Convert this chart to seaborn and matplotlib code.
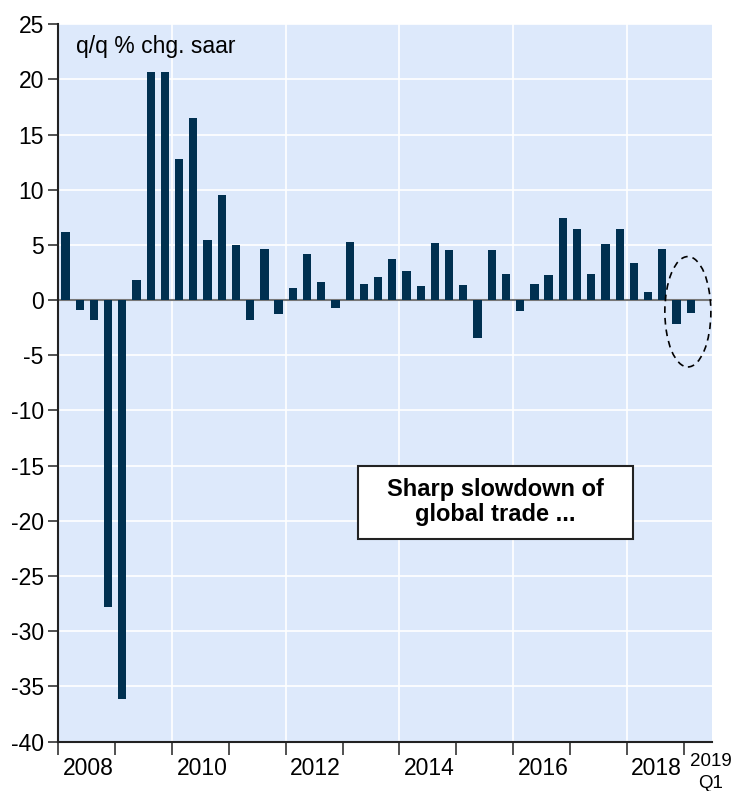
import numpy as np
import pandas as pd
import matplotlib
matplotlib.use("Agg")
import matplotlib.pyplot as plt
from matplotlib.patches import Ellipse, Rectangle
import seaborn as sns

# world trade volume, q/q % chg. saar, 2008Q1 - 2019Q1
quarters = [f"{y}Q{q}" for y in range(2008, 2020) for q in range(1, 5)][:45]
values = [6.2, -0.9, -1.8, -27.8, -36.1, 1.8, 20.7, 20.7, 12.8, 16.5, 5.4, 9.5,
          5.0, -1.8, 4.6, -1.3, 1.1, 4.2, 1.6, -0.75, 5.3, 1.45, 2.05, 3.7,
          2.6, 1.27, 5.2, 4.5, 1.36, -3.4, 4.5, 2.4, -0.95, 1.45, 2.26, 7.4,
          6.43, 2.4, 5.04, 6.43, 3.4, 0.7, 4.6, -2.2, -1.15]
years = list(range(2008, 2020))
year_labels = ["2008", "2010", "2012", "2014", "2016", "2018"]

df = pd.DataFrame({"quarter": quarters, "value": values})

sns.set_style("white")
plt.rcParams['font.family'] = ['Liberation Sans', 'DejaVu Sans']
plt.rcParams['text.color'] = 'black'
plt.rcParams['xtick.color'] = 'black'
plt.rcParams['ytick.color'] = 'black'

fig = plt.figure(figsize=(7.32, 7.91), dpi=100)
ax = fig.add_axes([0.0797, 0.0625, 0.893, 0.907])
ax.set_facecolor("#dde9fb")

sns.barplot(data=df, x="quarter", y="value", order=quarters, color="#003050",
            saturation=1, width=0.58, linewidth=0, ax=ax, zorder=3)

ax.set_xlim(-0.5, 45.5)
ax.set_ylim(-40, 25)
ax.set_yticks(np.arange(-40, 26, 5))
ax.set_yticklabels([str(v) for v in range(-40, 26, 5)], fontsize=16.5)
ax.yaxis.grid(True, color="white", linewidth=1.2, zorder=0)
ax.set_axisbelow(True)

# year ticks at boundaries, labels centered inside even years
ax.set_xticks([4 * (y - 2008) - 0.5 for y in years])
ax.set_xticklabels([])
for y in years:
    if y % 2 == 0 and y > 2008:
        ax.axvline(4 * (y - 2008) - 0.5, color="white", linewidth=1.2, zorder=0)
for lab in year_labels:
    xpos = 4 * (int(lab) - 2008) + 1.6
    ax.text(xpos, -0.022, lab, transform=ax.get_xaxis_transform(),
            ha="center", va="top", fontsize=16.5)
ax.text(45.4, -0.016, "2019", transform=ax.get_xaxis_transform(),
        ha="center", va="top", fontsize=13.5)
ax.text(45.4, -0.047, "Q1", transform=ax.get_xaxis_transform(),
        ha="center", va="top", fontsize=13.5)

ax.tick_params(axis="both", direction="out", length=7, width=1.2,
               color="#333333", left=True, bottom=True)
ax.tick_params(axis="x", length=9)
ax.set_xlabel("")
ax.set_ylabel("")

for side in ["top", "right"]:
    ax.spines[side].set_visible(False)
for side in ["left", "bottom"]:
    ax.spines[side].set_color("#222222")
    ax.spines[side].set_linewidth(1.5)

ax.axhline(0, color="#777777", linewidth=1.5, zorder=2)

ax.text(0.027, 0.985, "q/q % chg. saar", transform=ax.transAxes,
        ha="left", va="top", fontsize=16.5)

ax.add_patch(Rectangle((20.56, -21.65), 19.39, 6.65, facecolor="white",
                       edgecolor="#222222", linewidth=1.5, zorder=5))
ax.text(30.25, -18.3, "Sharp slowdown of\nglobal trade ...", ha="center",
        va="center", fontsize=17, fontweight="bold", linespacing=1.15, zorder=6)

ax.add_patch(Ellipse((43.8, -1.06), 3.24, 10, fill=False, edgecolor="black",
                     linestyle=(0, (4, 3)), linewidth=1.2, zorder=6))

fig.savefig("out.png", dpi=100)
